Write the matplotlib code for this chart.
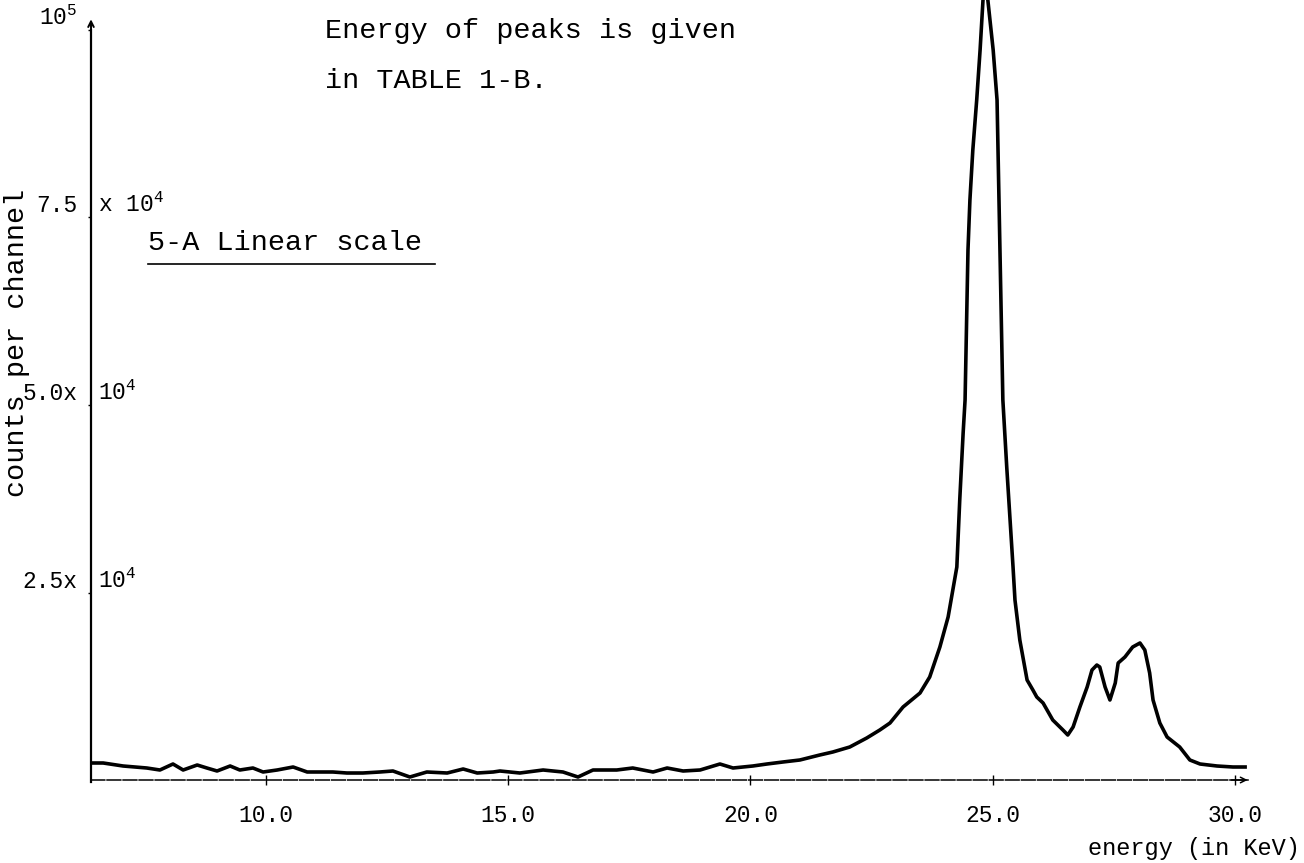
import matplotlib
matplotlib.use("Agg")
import matplotlib.pyplot as plt
from matplotlib.transforms import blended_transform_factory

plt.rcParams['font.family'] = ['Liberation Mono', 'DejaVu Sans Mono']
plt.rcParams['mathtext.fontset'] = 'custom'
plt.rcParams['mathtext.rm'] = 'Liberation Mono'
plt.rcParams['mathtext.it'] = 'Liberation Mono'
plt.rcParams['mathtext.bf'] = 'Liberation Mono'

# ---- data (energy in keV, counts per channel) ----
energy = [6.43, 6.64, 7.05, 7.54, 7.81, 8.08, 8.29, 8.58, 8.78, 8.99, 9.26,
          9.46, 9.73, 9.94, 10.23, 10.56, 10.85, 11.11, 11.38, 11.67, 12.00,
          12.35, 12.62, 12.97, 13.32, 13.74, 14.07, 14.36, 14.69, 14.83, 15.24,
          15.72, 16.13, 16.44, 16.75, 17.24, 17.57, 17.99, 18.28, 18.61, 18.96,
          19.37, 19.64, 20.05, 20.34, 20.67, 21.02, 21.43, 21.70, 22.05, 22.40,
          22.67, 22.88, 23.15, 23.50, 23.70, 23.91, 24.08, 24.26, 24.32, 24.39,
          24.43, 24.47, 24.49, 24.53, 24.59, 24.67, 24.74, 24.80, 24.85, 24.90,
          25.01, 25.09, 25.11, 25.13, 25.15, 25.17, 25.21, 25.29, 25.42, 25.46,
          25.56, 25.71, 25.83, 25.91, 26.04, 26.24, 26.45, 26.55, 26.66, 26.80,
          26.95, 27.05, 27.15, 27.21, 27.32, 27.42, 27.53, 27.59, 27.73, 27.89,
          28.04, 28.14, 28.24, 28.31, 28.45, 28.60, 28.86, 29.07, 29.28, 29.63,
          29.96, 30.21]
counts = [2267, 2267, 1867, 1600, 1333, 2133, 1333, 2000, 1600, 1200, 1867,
          1333, 1600, 1067, 1333, 1733, 1067, 1067, 1067, 933, 933,
          1067, 1200, 400, 1067, 933, 1467, 933, 1067, 1200, 933,
          1333, 1067, 400, 1333, 1333, 1600, 1067, 1600, 1200, 1333,
          2133, 1600, 1867, 2133, 2400, 2667, 3333, 3733, 4400, 5600,
          6667, 7600, 9733, 11600, 13733, 17733, 21733, 28400, 37333, 46267,
          50667, 64000, 70667, 77333, 84000, 90667, 97333, 104000, 108000, 104000,
          97333, 90667, 84000, 77333, 70667, 64000, 50667, 41733, 28400, 24000,
          18667, 13333, 12000, 11067, 10267, 8000, 6667, 6000, 7067, 9733,
          12400, 14667, 15333, 15067, 12400, 10667, 12933, 15600, 16400, 17733,
          18267, 17333, 14267, 10667, 7600, 5733, 4400, 2667, 2133, 1867,
          1733, 1733]

x_ticks = [10.0, 15.0, 20.0, 25.0, 30.0]
x_ticklabels = ["10.0", "15.0", "20.0", "25.0", "30.0"]
y_ticks = [25000, 50000, 75000, 100000]
y_left_labels = ["2.5x", "5.0x", "7.5", r"10$^{5}$"]
y_right_labels = [r"10$^{4}$", r"10$^{4}$", r"x 10$^{4}$", ""]

W, H = 1304, 863
fig = plt.figure(figsize=(W / 100, H / 100), dpi=100)
ax = fig.add_axes([91 / W, (H - 780) / H, (1248 - 91) / W, 780 / H])

ax.plot(energy, counts, color='black', lw=2.6, solid_joinstyle='round')

xmin, xmax = 6.388, 30.27
ax.set_xlim(xmin, xmax)
ax.set_ylim(0, 104000)

for s in ['top', 'right']:
    ax.spines[s].set_visible(False)
ax.spines['left'].set_linewidth(1.6)
ax.spines['left'].set_bounds(-300, 100000)
ax.spines['bottom'].set_linewidth(1.1)
ax.spines['bottom'].set_linestyle((0, (9, 1.5)))

# arrows at axis ends
ax.annotate('', xy=(xmin, 101800), xytext=(xmin, 98000),
            arrowprops=dict(arrowstyle='->', lw=1.4, color='black'),
            annotation_clip=False)
ax.annotate('', xy=(xmax + 0.05, 0), xytext=(xmax - 0.4, 0),
            arrowprops=dict(arrowstyle='->', lw=1.1, color='black'),
            annotation_clip=False)

ax.set_xticks(x_ticks)
ax.set_xticklabels(x_ticklabels, fontsize=16.5)
ax.tick_params(axis='x', direction='inout', length=7, width=1, pad=14)

ax.set_yticks(y_ticks)
ax.set_yticklabels(y_left_labels, fontsize=16.5)
ax.tick_params(axis='y', direction='out', length=2, width=1, pad=8)
for lab in ax.get_yticklabels():
    lab.set_verticalalignment('bottom')

trans = blended_transform_factory(ax.transAxes, ax.transData)
for yv, txt in zip(y_ticks, y_right_labels):
    if txt:
        ax.text(0.006, yv, txt, transform=trans, fontsize=16.5,
                ha='left', va='bottom')

ax.set_ylabel("counts per channel", fontsize=20.5)
ax.yaxis.set_label_coords(-0.053, 0.56)

fig.text(1300 / W, 1 - 848 / H, "energy (in KeV)", fontsize=17,
         ha='right', va='center')

fig.text(325 / W, 1 - 38 / H, "Energy of peaks is given", fontsize=20.5,
         ha='left', va='baseline')
fig.text(325 / W, 1 - 88 / H, "in TABLE 1-B.", fontsize=20.5,
         ha='left', va='baseline')
fig.text(148 / W, 1 - 250 / H, "5-A Linear scale", fontsize=20.5,
         ha='left', va='baseline')
fig.add_artist(plt.Line2D([148 / W, 435 / W], [1 - 264 / H, 1 - 264 / H],
                          color='black', lw=1.2))

fig.savefig("out.png", dpi=100)
